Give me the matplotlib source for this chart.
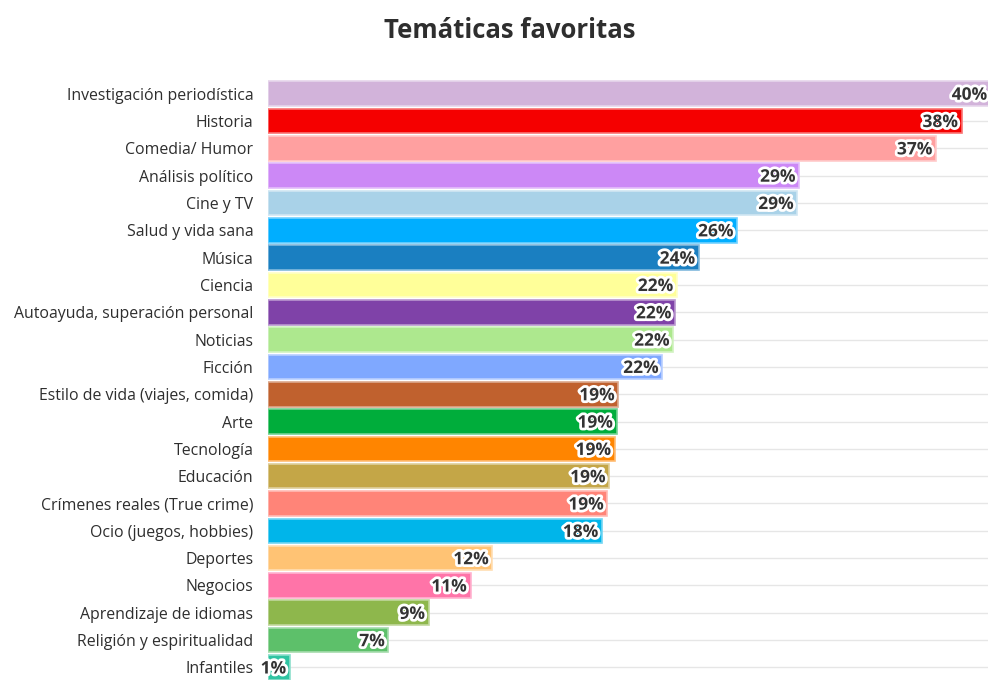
import matplotlib
matplotlib.use('Agg')
import matplotlib.pyplot as plt
import matplotlib.colors as mcolors
import matplotlib.patheffects as pe

# categories, top to bottom
temas = ['Investigación periodística', 'Historia', 'Comedia/ Humor', 'Análisis político',
         'Cine y TV', 'Salud y vida sana', 'Música', 'Ciencia',
         'Autoayuda, superación personal', 'Noticias', 'Ficción',
         'Estilo de vida (viajes, comida)', 'Arte', 'Tecnología', 'Educación',
         'Crímenes reales (True crime)', 'Ocio (juegos, hobbies)', 'Deportes',
         'Negocios', 'Aprendizaje de idiomas', 'Religión y espiritualidad', 'Infantiles']

# share in percent
porcentajes = [39.6, 38.0, 36.6, 29.1, 29.0, 25.7, 23.6, 22.4, 22.3, 22.2, 21.6,
               19.2, 19.1, 19.0, 18.7, 18.6, 18.3, 12.3, 11.1, 8.8, 6.6, 1.2]

colores = ['#D2B3DA', '#F50000', '#FFA0A0', '#CC88F6', '#A9D2E8', '#00AEFF',
           '#1A7FC1', '#FFFF99', '#7F42A8', '#ADE88E', '#7FA8FF', '#C0612E',
           '#00AD3B', '#FF8500', '#C4A647', '#FF8478', '#00B5EA', '#FFC374',
           '#FF74A8', '#8EB74C', '#5DC06A', '#2FC4A2']


def aclarar(c, f=0.45):
    r, g, b = mcolors.to_rgb(c)
    return (r + (1 - r) * f, g + (1 - g) * f, b + (1 - b) * f)


fig = plt.figure(figsize=(9.88, 6.8), dpi=100)
ax = fig.add_axes([268 / 988, 0, 1 - 268 / 988, (680 - 80) / 680])

pos = list(range(len(temas)))
ax.barh(pos, porcentajes, height=0.9, color=colores,
        edgecolor=[aclarar(c) for c in colores], linewidth=1.2, zorder=2)

ax.set_ylim(len(temas) - 1 + 0.46, -0.5)
ax.set_xlim(0, 39.45)

ax.set_yticks(pos)
ax.set_yticklabels(temas, fontsize=11.4, color='#2e2e2e', family='Open Sans')
ax.tick_params(axis='y', length=0, pad=10.5)
ax.set_xticks([])
ax.grid(axis='y', color='#e6e6e6', linewidth=1, zorder=0)
ax.set_axisbelow(True)
for s in ax.spines.values():
    s.set_visible(False)

# value labels with white halo
for y, v in zip(pos, porcentajes):
    ax.text(v - 0.2, y + 0.04, f'{v:.0f}%', ha='right', va='center', fontsize=12.5,
            fontweight='bold', color='#333333', family='Open Sans', zorder=3,
            clip_on=False,
            path_effects=[pe.withStroke(linewidth=4, foreground='white')])

fig.text(510 / 988, 1 - 30 / 680, 'Temáticas favoritas', ha='center', va='center',
         fontsize=18.5, fontweight='bold', color='#2e2e2e', family='Open Sans')

fig.savefig('out.png', dpi=100)
